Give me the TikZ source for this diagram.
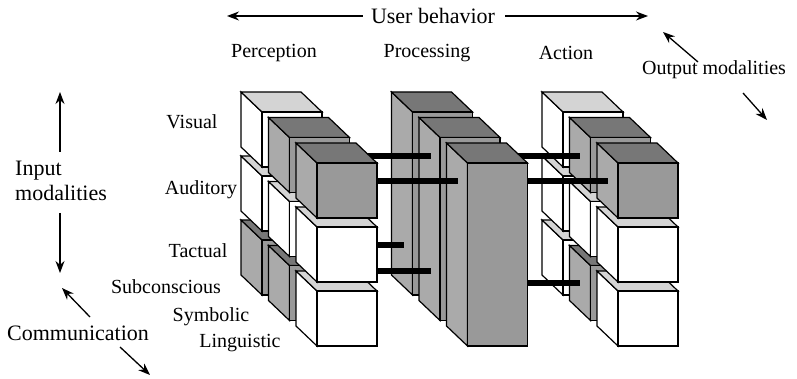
\documentclass[tikz,border=0pt]{standalone}
\usepackage{fontspec}
\setmainfont{Liberation Serif}
\usepackage{xcolor}
\usepackage{tikz}
\usetikzlibrary{arrows.meta}
\definecolor{MM_TOPL}{HTML}{D4D4D4}
\definecolor{MM_TOPD}{HTML}{777777}
\definecolor{MM_SIDE}{HTML}{AAAAAA}
\definecolor{MM_FRONT}{HTML}{999999}
\tikzset{
  face/.style={draw=black, line width=1.2pt},
  arr/.style={-{Stealth[length=12pt,width=9pt]}, line width=1.3pt},
  rod/.style={draw=black, line width=6pt},
  big/.style={inner sep=0pt, font=\fontsize{22}{25}\selectfont},
  lbl/.style={inner sep=0pt, font=\fontsize{20}{22}\selectfont},
}
% box: front face top-left (#1,#2), height #3, look #4 (w or d)
\newcommand{\mmbox}[4]{%
  \if#4d\def\mmF{MM_FRONT}\def\mmL{MM_SIDE}\def\mmT{MM_TOPD}%
  \else\def\mmF{white}\def\mmL{white}\def\mmT{MM_TOPL}\fi
  \filldraw[face, fill=\mmL] (#1,#2) -- ++(-21,-20) -- ++(0,#3) -- ++(21,20) -- cycle;
  \filldraw[face, fill=\mmT] (#1,#2) -- ++(-21,-20) -- ++(60,0) -- ++(21,20) -- cycle;
  \filldraw[face, fill=\mmF] (#1,#2) rectangle ++(60,#3);
}

\begin{document}
\begin{tikzpicture}[x=1pt, y=-1pt]
  \useasboundingbox (0,0) rectangle (797,379);

  % back layer
  \foreach \r/\t in {2/d,1/w,0/w} {
    \mmbox{262}{112+64*\r}{55}{\t}
    \mmbox{563}{112+64*\r}{55}{w}
  }
  \mmbox{412.5}{112}{183}{d}
  \draw[rod] (322,245) -- (404,245);

  % middle layer
  \foreach \r/\t in {2/d,1/w,0/d} {
    \mmbox{289.5}{137.5+64*\r}{55}{\t}
    \mmbox{590.5}{137.5+64*\r}{55}{\t}
  }
  \mmbox{440}{137.5}{183}{d}
  \draw[rod] (349.5,156) -- (431,156);
  \draw[rod] (349.5,271) -- (431,271);
  \draw[rod] (500,156) -- (580,156);
  \draw[rod] (500,283) -- (580,283);

  % front layer
  \foreach \r/\t in {2/w,1/w,0/d} {
    \mmbox{317}{163+64*\r}{55}{\t}
    \mmbox{618}{163+64*\r}{55}{\t}
  }
  \mmbox{467.5}{163}{183}{d}
  \draw[rod] (377,181) -- (458,181);
  \draw[rod] (527.5,181) -- (608,181);

  \node[big] (ub) at (433,16) {User behavior};
  \coordinate (ubL) at (227,16);
  \coordinate (ubR) at (648,16);
  \draw[arr] ([xshift=-8pt]ub.west) -- (ubL);
  \draw[arr] ([xshift=10pt]ub.east) -- (ubR);

  \node[lbl] (perc) at (274,53) {Perception};
  \node[lbl] (proc) at (427,53) {Processing};
  \node[lbl] (act)  at (566,53) {Action};

  \node[lbl] (outm) at (714,70) {Output modalities};
  \coordinate (outU0) at (698,62);
  \coordinate (outU1) at (663,32);
  \coordinate (outD0) at (743,93);
  \coordinate (outD1) at (767,120);
  \draw[arr] (outU0) -- (outU1);
  \draw[arr] (outD0) -- (outD1);

  \node[big, align=left, anchor=west] (inm) at (15,180.5) {Input\\modalities};
  \coordinate (inU0) at (60,152);
  \coordinate (inU1) at (60,92);
  \coordinate (inD0) at (60,213);
  \coordinate (inD1) at (60,273);
  \draw[arr] (inU0) -- (inU1);
  \draw[arr] (inD0) -- (inD1);

  \node[big] (comm) at (78,333) {Communication};
  \coordinate (comU0) at (90,317);
  \coordinate (comU1) at (62,288);
  \coordinate (comD0) at (120,347);
  \coordinate (comD1) at (150,375);
  \draw[arr] (comU0) -- (comU1);
  \draw[arr] (comD0) -- (comD1);

  \node[lbl] (vis) at (192,122) {Visual};
  \node[lbl] (aud) at (201,190) {Auditory};
  \node[lbl] (tac) at (198,251) {Tactual};
  \node[lbl] (sub) at (166,287) {Subconscious};
  \node[lbl] (sym) at (211,317) {Symbolic};
  \node[lbl] (lin) at (240,343) {Linguistic};
\end{tikzpicture}
\end{document}
